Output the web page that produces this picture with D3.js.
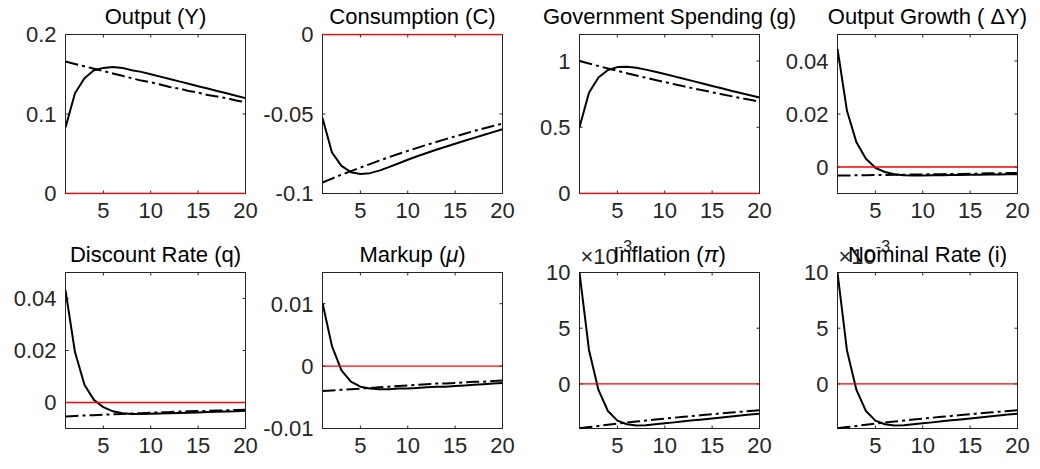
<!DOCTYPE html>
<html>
<head>
<meta charset="utf-8">
<script src="https://cdn.jsdelivr.net/npm/d3@7"></script>
<style>
  html, body { margin: 0; padding: 0; background: #fff; }
  svg { display: block; font-family: "Liberation Sans", Arial, Helvetica, sans-serif; }
</style>
</head>
<body>
<svg id="fig" width="1040" height="469"></svg>
<script>
// Impulse responses to a government spending shock, horizons 1..20.
// Solid: responses under learning; dash-dot: rational-expectations benchmark.
const horizon = [1,2,3,4,5,6,7,8,9,10,11,12,13,14,15,16,17,18,19,20];
const xTicks = [5, 10, 15, 20];

const outputSolid = [0.083,0.126,0.145,0.155,0.158,0.159,0.158,0.155,0.153,0.150,0.147,0.144,0.141,0.138,0.135,0.132,0.129,0.126,0.123,0.120];
const outputDash  = [0.166,0.163,0.160,0.157,0.154,0.151,0.148,0.145,0.142,0.140,0.137,0.134,0.132,0.129,0.127,0.124,0.122,0.120,0.117,0.115];

const consSolid = [-0.0526,-0.0742,-0.0826,-0.0866,-0.0878,-0.0872,-0.0856,-0.0834,-0.0811,-0.0788,-0.0766,-0.0745,-0.0725,-0.0706,-0.0687,-0.0668,-0.0650,-0.0632,-0.0614,-0.0596];
const consDash  = [-0.0931,-0.0906,-0.0882,-0.0859,-0.0837,-0.0815,-0.0793,-0.0772,-0.0752,-0.0732,-0.0713,-0.0694,-0.0676,-0.0658,-0.0641,-0.0624,-0.0607,-0.0591,-0.0576,-0.0561];

const govSolid = [0.501,0.760,0.876,0.932,0.954,0.957,0.949,0.935,0.919,0.902,0.884,0.866,0.848,0.830,0.812,0.794,0.776,0.759,0.742,0.725];
const govDash  = [1.000,0.981,0.962,0.944,0.926,0.908,0.891,0.874,0.857,0.841,0.825,0.809,0.794,0.779,0.764,0.749,0.735,0.721,0.707,0.694];

const growthSolid = [0.0446,0.0212,0.0093,0.0031,-0.0003,-0.0019,-0.0027,-0.0031,-0.0032,-0.0032,-0.0031,-0.0031,-0.0030,-0.0030,-0.0029,-0.0029,-0.0028,-0.0028,-0.0027,-0.0027];
const growthDash  = [-0.0032,-0.0032,-0.0031,-0.0031,-0.0030,-0.0030,-0.0029,-0.0029,-0.0028,-0.0028,-0.0027,-0.0027,-0.0026,-0.0026,-0.0025,-0.0025,-0.0024,-0.0024,-0.0023,-0.0023];

const discSolid = [0.0431,0.0194,0.0068,0.0010,-0.0018,-0.0034,-0.0041,-0.0044,-0.0044,-0.0043,-0.0042,-0.0041,-0.0040,-0.0039,-0.0038,-0.0037,-0.0036,-0.0035,-0.0034,-0.0032];
const discDash  = [-0.0054,-0.0052,-0.0050,-0.0049,-0.0047,-0.0045,-0.0044,-0.0042,-0.0041,-0.0039,-0.0038,-0.0037,-0.0035,-0.0034,-0.0033,-0.0032,-0.0031,-0.0030,-0.0029,-0.0028];

const markupSolid = [0.0101,0.0032,-0.0007,-0.0025,-0.0033,-0.0036,-0.0037,-0.0037,-0.0036,-0.0036,-0.0035,-0.0034,-0.0033,-0.0033,-0.0032,-0.0031,-0.0030,-0.0029,-0.0028,-0.0027];
const markupDash  = [-0.0040,-0.0039,-0.0038,-0.0037,-0.0036,-0.0035,-0.0034,-0.0033,-0.0032,-0.0031,-0.0030,-0.0029,-0.0028,-0.0028,-0.0027,-0.0026,-0.0025,-0.0025,-0.0024,-0.0023];

const inflSolid = [10.0e-3,3.05e-3,-0.54e-3,-2.43e-3,-3.29e-3,-3.62e-3,-3.74e-3,-3.70e-3,-3.62e-3,-3.53e-3,-3.45e-3,-3.36e-3,-3.27e-3,-3.19e-3,-3.10e-3,-3.01e-3,-2.93e-3,-2.84e-3,-2.75e-3,-2.67e-3];
const inflDash  = [-3.98e-3,-3.87e-3,-3.77e-3,-3.67e-3,-3.57e-3,-3.47e-3,-3.38e-3,-3.29e-3,-3.20e-3,-3.11e-3,-3.03e-3,-2.95e-3,-2.87e-3,-2.79e-3,-2.72e-3,-2.64e-3,-2.57e-3,-2.50e-3,-2.44e-3,-2.37e-3];

const nomSolid = [10.0e-3,3.00e-3,-0.54e-3,-2.43e-3,-3.29e-3,-3.62e-3,-3.74e-3,-3.70e-3,-3.62e-3,-3.53e-3,-3.45e-3,-3.36e-3,-3.27e-3,-3.19e-3,-3.10e-3,-3.01e-3,-2.93e-3,-2.84e-3,-2.75e-3,-2.67e-3];
const nomDash  = [-3.98e-3,-3.87e-3,-3.77e-3,-3.67e-3,-3.57e-3,-3.47e-3,-3.38e-3,-3.29e-3,-3.20e-3,-3.11e-3,-3.03e-3,-2.95e-3,-2.87e-3,-2.79e-3,-2.72e-3,-2.64e-3,-2.57e-3,-2.50e-3,-2.44e-3,-2.37e-3];

// Panel titles (plain part + optional italic symbol) and y axis settings
const panels = [
  { title: [["Output (Y)", false]], solid: outputSolid, dash: outputDash,
    ylim: [0, 0.2], yTicks: [0, 0.1, 0.2], yLabels: ["0", "0.1", "0.2"] },
  { title: [["Consumption (C)", false]], solid: consSolid, dash: consDash,
    ylim: [-0.1, 0], yTicks: [-0.1, -0.05, 0], yLabels: ["-0.1", "-0.05", "0"] },
  { title: [["Government Spending (g)", false]], solid: govSolid, dash: govDash,
    ylim: [0, 1.2], yTicks: [0, 0.5, 1], yLabels: ["0", "0.5", "1"] },
  { title: [["Output Growth ( \u0394Y)", false]], solid: growthSolid, dash: growthDash,
    ylim: [-0.01, 0.05], yTicks: [0, 0.02, 0.04], yLabels: ["0", "0.02", "0.04"] },
  { title: [["Discount Rate (q)", false]], solid: discSolid, dash: discDash,
    ylim: [-0.01, 0.05], yTicks: [0, 0.02, 0.04], yLabels: ["0", "0.02", "0.04"] },
  { title: [["Markup (", false], ["\u03bc", true], [")", false]], solid: markupSolid, dash: markupDash,
    ylim: [-0.01, 0.015], yTicks: [-0.01, 0, 0.01], yLabels: ["-0.01", "0", "0.01"] },
  { title: [["Inflation (", false], ["\u03c0", true], [")", false]], solid: inflSolid, dash: inflDash,
    ylim: [-0.004, 0.010], yTicks: [0, 0.005, 0.010], yLabels: ["0", "5", "10"], exponent: "-3" },
  { title: [["Nominal Rate (i)", false]], solid: nomSolid, dash: nomDash,
    ylim: [-0.004, 0.010], yTicks: [0, 0.005, 0.010], yLabels: ["0", "5", "10"], exponent: "-3" }
];

const colLeft = [65, 322, 579, 837];
const plotW = 180;
const rowTop = [34.5, 272.5];
const rowH = [159, 156];
const axisColor = "#262626";
const tickLen = 3;
const fontSize = 22;

const svg = d3.select("#fig");

panels.forEach((p, i) => {
  const col = i % 4, row = Math.floor(i / 4);
  const x0 = colLeft[col] + 0.5, y0 = rowTop[row];
  const w = plotW, h = rowH[row];

  const x = d3.scaleLinear().domain([1, 20]).range([0, w]);
  const y = d3.scaleLinear().domain(p.ylim).range([h, 0]);

  const g = svg.append("g").attr("transform", `translate(${x0},${y0})`);

  // axes box (drawn beneath the data)
  g.append("rect").attr("x", 0).attr("y", 0).attr("width", w).attr("height", h)
    .attr("fill", "none").attr("stroke", axisColor).attr("stroke-width", 1);

  // inward ticks on all four sides
  const xt = g.append("g").attr("stroke", axisColor).attr("stroke-width", 1);
  xTicks.forEach(t => {
    xt.append("line").attr("x1", x(t)).attr("x2", x(t)).attr("y1", h).attr("y2", h - tickLen);
    xt.append("line").attr("x1", x(t)).attr("x2", x(t)).attr("y1", 0).attr("y2", tickLen);
  });
  p.yTicks.forEach(t => {
    xt.append("line").attr("x1", 0).attr("x2", tickLen).attr("y1", y(t)).attr("y2", y(t));
    xt.append("line").attr("x1", w).attr("x2", w - tickLen).attr("y1", y(t)).attr("y2", y(t));
  });

  // tick labels
  g.selectAll(".xl").data(xTicks).enter().append("text")
    .attr("x", d => x(d)).attr("y", h + 24)
    .attr("text-anchor", "middle").attr("font-size", fontSize).attr("fill", axisColor)
    .text(d => d);
  g.selectAll(".yl").data(p.yTicks).enter().append("text")
    .attr("x", -9).attr("y", d => y(d)).attr("dy", "0.36em")
    .attr("text-anchor", "end").attr("font-size", fontSize).attr("fill", axisColor)
    .text((d, k) => p.yLabels[k]);

  // exponent multiplier above the y axis
  if (p.exponent) {
    const ex = g.append("text").attr("x", 1).attr("y", -9)
      .attr("font-size", fontSize).attr("fill", axisColor);
    ex.append("tspan").text("\u00d710");
    ex.append("tspan").attr("dy", -12).attr("font-size", 16).text(p.exponent);
  }

  // responses
  const line = d3.line().x((d, k) => x(horizon[k])).y(d => y(d));
  const clipId = "clip" + i;
  g.append("clipPath").attr("id", clipId).append("rect")
    .attr("x", 0).attr("y", -1).attr("width", w).attr("height", h + 2);
  const data = g.append("g").attr("clip-path", `url(#${clipId})`);

  data.append("path").datum(p.solid).attr("d", line)
    .attr("fill", "none").attr("stroke", "#000").attr("stroke-width", 2)
    .attr("stroke-linejoin", "round");
  data.append("path").datum(p.dash).attr("d", line)
    .attr("fill", "none").attr("stroke", "#000").attr("stroke-width", 2)
    .attr("stroke-dasharray", "13,4,3,4");
  data.append("path").datum(horizon.map(() => 0)).attr("d", line)
    .attr("fill", "none").attr("stroke", "#ff0000").attr("stroke-width", 1.3);

  // title
  const tt = g.append("text").attr("x", w / 2).attr("y", -11)
    .attr("text-anchor", "middle").attr("font-size", fontSize).attr("fill", "#000");
  p.title.forEach(([s, it]) => {
    const span = tt.append("tspan").text(s);
    if (it) span.attr("font-style", "italic");
  });
});
</script>
</body>
</html>
